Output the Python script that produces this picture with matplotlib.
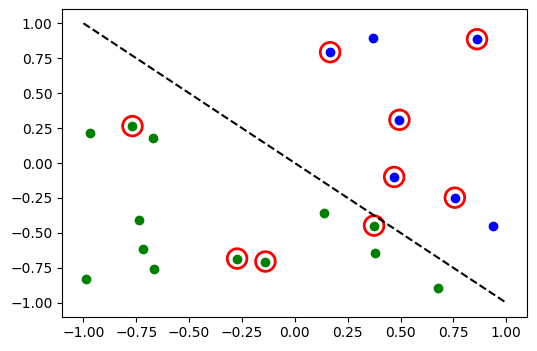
import numpy as np
import matplotlib
matplotlib.use('Agg')
import matplotlib.pyplot as plt

# class +1 points (blue)
blue_x = [0.167, 0.371, 0.862, 0.495, 0.470, 0.757, 0.938]
blue_y = [0.793, 0.893, 0.886, 0.309, -0.100, -0.248, -0.448]

# class -1 points (green)
green_x = [-0.967, -0.768, -0.673, -0.738, -0.716, -0.667, -0.986,
           -0.273, -0.139, 0.138, 0.375, 0.380, 0.676]
green_y = [0.214, 0.264, 0.181, -0.407, -0.614, -0.757, -0.829,
           -0.684, -0.705, -0.357, -0.448, -0.641, -0.891]

# circled points (support vectors)
sv_x = [0.167, 0.862, 0.495, 0.470, 0.757, -0.768, -0.273, -0.139, 0.375]
sv_y = [0.793, 0.886, 0.309, -0.100, -0.248, 0.264, -0.684, -0.705, -0.448]

# boundary line
line_x = [-1.0, 1.0]
line_y = [1.0, -1.0]

fig = plt.figure(figsize=(5.37, 3.51), dpi=100)
ax = fig.add_axes([0.116, 0.0977, 0.866, 0.8758])

ax.scatter(blue_x, blue_y, c='b')
ax.scatter(green_x, green_y, c='g')
ax.scatter(sv_x, sv_y, s=200, facecolors='none', edgecolors='r', linewidths=2)
ax.plot(line_x, line_y, 'k--')

ax.set_xlim(-1.1, 1.1)
ax.set_ylim(-1.1, 1.1)
ax.set_xticks(np.arange(-1.0, 1.01, 0.25))
ax.set_yticks(np.arange(-1.0, 1.01, 0.25))

fig.savefig('out.png', dpi=100)
